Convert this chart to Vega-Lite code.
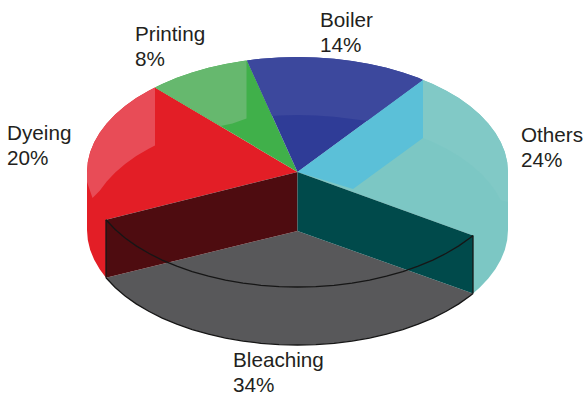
{"$schema":"https://vega.github.io/schema/vega-lite/v6.json","width":585,"height":396,"padding":0,"autosize":{"type":"none"},"background":"white","view":{"stroke":null},
"datasets":{
"faces":[
{"part":"others","n":0,"x":0,"y":0},{"part":"others","n":1,"x":125.5,"y":92},{"part":"others","n":2,"x":135.3,"y":88.1},{"part":"others","n":3,"x":148.8,"y":81.3},{"part":"others","n":4,"x":161.3,"y":73.9},{"part":"others","n":5,"x":172.4,"y":66},{"part":"others","n":6,"x":182.3,"y":57.5},{"part":"others","n":7,"x":190.8,"y":48.6},{"part":"others","n":8,"x":197.8,"y":39.3},{"part":"others","n":9,"x":203.3,"y":29.8},{"part":"others","n":10,"x":207.3,"y":20},{"part":"others","n":11,"x":209.7,"y":10},{"part":"others","n":12,"x":210.5,"y":0},{"part":"others","n":13,"x":210.5,"y":-58},{"part":"others","n":14,"x":209.7,"y":-68},{"part":"others","n":15,"x":207.3,"y":-78},{"part":"others","n":16,"x":203.3,"y":-87.8},{"part":"others","n":17,"x":197.8,"y":-97.3},{"part":"others","n":18,"x":190.8,"y":-106.6},{"part":"others","n":19,"x":182.3,"y":-115.5},{"part":"others","n":20,"x":175.5,"y":-121.5},{"part":"others","n":21,"x":175.5,"y":-63.5},
{"part":"othersBack","n":0,"x":125.5,"y":92},{"part":"othersBack","n":1,"x":135.3,"y":88.1},{"part":"othersBack","n":2,"x":148.8,"y":81.3},{"part":"othersBack","n":3,"x":161.3,"y":73.9},{"part":"othersBack","n":4,"x":172.4,"y":66},{"part":"othersBack","n":5,"x":182.3,"y":57.5},{"part":"othersBack","n":6,"x":190.8,"y":48.6},{"part":"othersBack","n":7,"x":197.8,"y":39.3},{"part":"othersBack","n":8,"x":203.3,"y":29.8},{"part":"othersBack","n":9,"x":207.3,"y":20},{"part":"othersBack","n":10,"x":209.7,"y":10},{"part":"othersBack","n":11,"x":210.5,"y":0},{"part":"othersBack","n":12,"x":210.5,"y":-30},{"part":"othersBack","n":13,"x":203.3,"y":-28.2},{"part":"othersBack","n":14,"x":197.8,"y":-18.7},{"part":"othersBack","n":15,"x":190.8,"y":-9.4},{"part":"othersBack","n":16,"x":182.3,"y":-0.5},{"part":"othersBack","n":17,"x":172.4,"y":8},{"part":"othersBack","n":18,"x":161.3,"y":15.9},{"part":"othersBack","n":19,"x":148.8,"y":23.3},{"part":"othersBack","n":20,"x":135.3,"y":30.1},{"part":"othersBack","n":21,"x":125.5,"y":34},
{"part":"dyeing","n":0,"x":0,"y":0},{"part":"dyeing","n":1,"x":-142.5,"y":84.6},{"part":"dyeing","n":2,"x":-148.8,"y":81.3},{"part":"dyeing","n":3,"x":-161.3,"y":73.9},{"part":"dyeing","n":4,"x":-172.4,"y":66},{"part":"dyeing","n":5,"x":-182.3,"y":57.5},{"part":"dyeing","n":6,"x":-190.8,"y":48.6},{"part":"dyeing","n":7,"x":-197.8,"y":39.3},{"part":"dyeing","n":8,"x":-203.3,"y":29.8},{"part":"dyeing","n":9,"x":-207.3,"y":20},{"part":"dyeing","n":10,"x":-209.7,"y":10},{"part":"dyeing","n":11,"x":-210.5,"y":0},{"part":"dyeing","n":12,"x":-210.5,"y":-58},{"part":"dyeing","n":13,"x":-209.7,"y":-68},{"part":"dyeing","n":14,"x":-207.3,"y":-78},{"part":"dyeing","n":15,"x":-203.3,"y":-87.8},{"part":"dyeing","n":16,"x":-197.8,"y":-97.3},{"part":"dyeing","n":17,"x":-191.5,"y":-105.7},{"part":"dyeing","n":18,"x":-191.5,"y":-47.7},
{"part":"dyeingBack","n":0,"x":-142.5,"y":84.6},{"part":"dyeingBack","n":1,"x":-148.8,"y":81.3},{"part":"dyeingBack","n":2,"x":-161.3,"y":73.9},{"part":"dyeingBack","n":3,"x":-172.4,"y":66},{"part":"dyeingBack","n":4,"x":-182.3,"y":57.5},{"part":"dyeingBack","n":5,"x":-190.8,"y":48.6},{"part":"dyeingBack","n":6,"x":-197.8,"y":39.3},{"part":"dyeingBack","n":7,"x":-203.3,"y":29.8},{"part":"dyeingBack","n":8,"x":-207.3,"y":20},{"part":"dyeingBack","n":9,"x":-209.7,"y":10},{"part":"dyeingBack","n":10,"x":-210.5,"y":0},{"part":"dyeingBack","n":11,"x":-210.5,"y":-10},{"part":"dyeingBack","n":12,"x":-205,"y":-26},{"part":"dyeingBack","n":13,"x":-197.8,"y":-18.7},{"part":"dyeingBack","n":14,"x":-190.8,"y":-9.4},{"part":"dyeingBack","n":15,"x":-182.3,"y":-0.5},{"part":"dyeingBack","n":16,"x":-172.4,"y":8},{"part":"dyeingBack","n":17,"x":-161.3,"y":15.9},{"part":"dyeingBack","n":18,"x":-148.8,"y":23.3},{"part":"dyeingBack","n":19,"x":-142.5,"y":26.6},
{"part":"printing","n":0,"x":0,"y":0},{"part":"printing","n":1,"x":-50.5,"y":111.6},{"part":"printing","n":2,"x":-54.5,"y":111.1},{"part":"printing","n":3,"x":-72,"y":108.1},{"part":"printing","n":4,"x":-89,"y":104.2},{"part":"printing","n":5,"x":-105.3,"y":99.6},{"part":"printing","n":6,"x":-120.7,"y":94.2},{"part":"printing","n":7,"x":-135.3,"y":88.1},{"part":"printing","n":8,"x":-142.5,"y":84.6},
{"part":"printingBack","n":0,"x":-51,"y":111.6},{"part":"printingBack","n":1,"x":-54.5,"y":111.1},{"part":"printingBack","n":2,"x":-72,"y":108.1},{"part":"printingBack","n":3,"x":-89,"y":104.2},{"part":"printingBack","n":4,"x":-105.3,"y":99.6},{"part":"printingBack","n":5,"x":-120.7,"y":94.2},{"part":"printingBack","n":6,"x":-135.3,"y":88.1},{"part":"printingBack","n":7,"x":-142.5,"y":84.6},{"part":"printingBack","n":8,"x":-77,"y":46},{"part":"printingBack","n":9,"x":-65,"y":48.5},{"part":"printingBack","n":10,"x":-51,"y":53.6},
{"part":"boiler","n":0,"x":0,"y":0},{"part":"boiler","n":1,"x":-50.5,"y":111.6},{"part":"boiler","n":2,"x":-36.6,"y":113.3},{"part":"boiler","n":3,"x":-18.3,"y":114.6},{"part":"boiler","n":4,"x":0,"y":115},{"part":"boiler","n":5,"x":18.3,"y":114.6},{"part":"boiler","n":6,"x":36.6,"y":113.3},{"part":"boiler","n":7,"x":54.5,"y":111.1},{"part":"boiler","n":8,"x":72,"y":108.1},{"part":"boiler","n":9,"x":89,"y":104.2},{"part":"boiler","n":10,"x":105.3,"y":99.6},{"part":"boiler","n":11,"x":120.7,"y":94.2},{"part":"boiler","n":12,"x":125.5,"y":92},
{"part":"boilerBack","n":0,"x":-50.5,"y":111.6},{"part":"boilerBack","n":1,"x":-36.6,"y":113.3},{"part":"boilerBack","n":2,"x":-18.3,"y":114.6},{"part":"boilerBack","n":3,"x":0,"y":115},{"part":"boilerBack","n":4,"x":18.3,"y":114.6},{"part":"boilerBack","n":5,"x":36.6,"y":113.3},{"part":"boilerBack","n":6,"x":54.5,"y":111.1},{"part":"boilerBack","n":7,"x":72,"y":108.1},{"part":"boilerBack","n":8,"x":89,"y":104.2},{"part":"boilerBack","n":9,"x":105.3,"y":99.6},{"part":"boilerBack","n":10,"x":120.7,"y":94.2},{"part":"boilerBack","n":11,"x":125.5,"y":92},{"part":"boilerBack","n":12,"x":70,"y":51},{"part":"boilerBack","n":13,"x":54.5,"y":53.1},{"part":"boilerBack","n":14,"x":36.6,"y":55.3},{"part":"boilerBack","n":15,"x":18.3,"y":56.6},{"part":"boilerBack","n":16,"x":0,"y":57},{"part":"boilerBack","n":17,"x":-18.3,"y":56.6},{"part":"boilerBack","n":18,"x":-25.3,"y":56},
{"part":"othersLit","n":0,"x":0,"y":0},{"part":"othersLit","n":1,"x":125.5,"y":92},{"part":"othersLit","n":2,"x":125.5,"y":34},{"part":"othersLit","n":3,"x":55.5,"y":-17},
{"part":"bleachingFloor","n":0,"x":0,"y":-59},{"part":"bleachingFloor","n":1,"x":-191.5,"y":-105.7},{"part":"bleachingFloor","n":2,"x":-182.3,"y":-115.5},{"part":"bleachingFloor","n":3,"x":-172.4,"y":-124},{"part":"bleachingFloor","n":4,"x":-161.3,"y":-131.9},{"part":"bleachingFloor","n":5,"x":-148.8,"y":-139.3},{"part":"bleachingFloor","n":6,"x":-135.3,"y":-146.1},{"part":"bleachingFloor","n":7,"x":-120.7,"y":-152.2},{"part":"bleachingFloor","n":8,"x":-105.3,"y":-157.6},{"part":"bleachingFloor","n":9,"x":-89,"y":-162.2},{"part":"bleachingFloor","n":10,"x":-72,"y":-166.1},{"part":"bleachingFloor","n":11,"x":-54.5,"y":-169.1},{"part":"bleachingFloor","n":12,"x":-36.6,"y":-171.3},{"part":"bleachingFloor","n":13,"x":-18.3,"y":-172.6},{"part":"bleachingFloor","n":14,"x":0,"y":-173},{"part":"bleachingFloor","n":15,"x":18.3,"y":-172.6},{"part":"bleachingFloor","n":16,"x":36.6,"y":-171.3},{"part":"bleachingFloor","n":17,"x":54.5,"y":-169.1},{"part":"bleachingFloor","n":18,"x":72,"y":-166.1},{"part":"bleachingFloor","n":19,"x":89,"y":-162.2},{"part":"bleachingFloor","n":20,"x":105.3,"y":-157.6},{"part":"bleachingFloor","n":21,"x":120.7,"y":-152.2},{"part":"bleachingFloor","n":22,"x":135.3,"y":-146.1},{"part":"bleachingFloor","n":23,"x":148.8,"y":-139.3},{"part":"bleachingFloor","n":24,"x":161.3,"y":-131.9},{"part":"bleachingFloor","n":25,"x":172.4,"y":-124},{"part":"bleachingFloor","n":26,"x":175.5,"y":-121.5},
{"part":"wallLeft","n":0,"x":-191.5,"y":-47.7},{"part":"wallLeft","n":1,"x":0,"y":0},{"part":"wallLeft","n":2,"x":0,"y":-59},{"part":"wallLeft","n":3,"x":-191.5,"y":-105.7},
{"part":"wallRight","n":0,"x":0,"y":0},{"part":"wallRight","n":1,"x":175.5,"y":-63.5},{"part":"wallRight","n":2,"x":175.5,"y":-121.5},{"part":"wallRight","n":3,"x":0,"y":-59}
],
"edges":[
{"edge":"rim","n":0,"x":-191.5,"y":-47.7},{"edge":"rim","n":1,"x":-182.3,"y":-57.5},{"edge":"rim","n":2,"x":-172.4,"y":-66},{"edge":"rim","n":3,"x":-161.3,"y":-73.9},{"edge":"rim","n":4,"x":-148.8,"y":-81.3},{"edge":"rim","n":5,"x":-135.3,"y":-88.1},{"edge":"rim","n":6,"x":-120.7,"y":-94.2},{"edge":"rim","n":7,"x":-105.3,"y":-99.6},{"edge":"rim","n":8,"x":-89,"y":-104.2},{"edge":"rim","n":9,"x":-72,"y":-108.1},{"edge":"rim","n":10,"x":-54.5,"y":-111.1},{"edge":"rim","n":11,"x":-36.6,"y":-113.3},{"edge":"rim","n":12,"x":-18.3,"y":-114.6},{"edge":"rim","n":13,"x":0,"y":-115},{"edge":"rim","n":14,"x":18.3,"y":-114.6},{"edge":"rim","n":15,"x":36.6,"y":-113.3},{"edge":"rim","n":16,"x":54.5,"y":-111.1},{"edge":"rim","n":17,"x":72,"y":-108.1},{"edge":"rim","n":18,"x":89,"y":-104.2},{"edge":"rim","n":19,"x":105.3,"y":-99.6},{"edge":"rim","n":20,"x":120.7,"y":-94.2},{"edge":"rim","n":21,"x":135.3,"y":-88.1},{"edge":"rim","n":22,"x":148.8,"y":-81.3},{"edge":"rim","n":23,"x":161.3,"y":-73.9},{"edge":"rim","n":24,"x":172.4,"y":-66},{"edge":"rim","n":25,"x":175.5,"y":-63.5},
{"edge":"base","n":0,"x":-191.5,"y":-105.7},{"edge":"base","n":1,"x":-182.3,"y":-115.5},{"edge":"base","n":2,"x":-172.4,"y":-124},{"edge":"base","n":3,"x":-161.3,"y":-131.9},{"edge":"base","n":4,"x":-148.8,"y":-139.3},{"edge":"base","n":5,"x":-135.3,"y":-146.1},{"edge":"base","n":6,"x":-120.7,"y":-152.2},{"edge":"base","n":7,"x":-105.3,"y":-157.6},{"edge":"base","n":8,"x":-89,"y":-162.2},{"edge":"base","n":9,"x":-72,"y":-166.1},{"edge":"base","n":10,"x":-54.5,"y":-169.1},{"edge":"base","n":11,"x":-36.6,"y":-171.3},{"edge":"base","n":12,"x":-18.3,"y":-172.6},{"edge":"base","n":13,"x":0,"y":-173},{"edge":"base","n":14,"x":18.3,"y":-172.6},{"edge":"base","n":15,"x":36.6,"y":-171.3},{"edge":"base","n":16,"x":54.5,"y":-169.1},{"edge":"base","n":17,"x":72,"y":-166.1},{"edge":"base","n":18,"x":89,"y":-162.2},{"edge":"base","n":19,"x":105.3,"y":-157.6},{"edge":"base","n":20,"x":120.7,"y":-152.2},{"edge":"base","n":21,"x":135.3,"y":-146.1},{"edge":"base","n":22,"x":148.8,"y":-139.3},{"edge":"base","n":23,"x":161.3,"y":-131.9},{"edge":"base","n":24,"x":172.4,"y":-124},{"edge":"base","n":25,"x":175.5,"y":-121.5},
{"edge":"postLeft","n":0,"x":-191.5,"y":-47.7},{"edge":"postLeft","n":1,"x":-191.5,"y":-105.7},
{"edge":"postRight","n":0,"x":175.5,"y":-63.5},{"edge":"postRight","n":1,"x":175.5,"y":-121.5}
],
"labels":[
{"name":"Boiler","share":14,"label":"Boiler\n14%","x":22.5,"y":145},
{"name":"Printing","share":8,"label":"Printing\n8%","x":-162.5,"y":131},
{"name":"Dyeing","share":20,"label":"Dyeing\n20%","x":-290.5,"y":32},
{"name":"Others","share":24,"label":"Others\n24%","x":223.5,"y":30},
{"name":"Bleaching","share":34,"label":"Bleaching\n34%","x":-64.5,"y":-195}
]},
"layer":[
{"data":{"name":"faces"},"mark":{"type":"line","strokeWidth":0,"clip":false},
"encoding":{
"x":{"field":"x","type":"quantitative","scale":{"domain":[-297.5,287.5],"nice":false,"zero":false},"axis":null},
"y":{"field":"y","type":"quantitative","scale":{"domain":[-224,172],"nice":false,"zero":false},"axis":null},
"order":{"field":"n"},
"detail":{"field":"part"},
"fill":{"field":"part","type":"nominal","legend":null,"sort":null,"scale":{
"domain":["others","othersBack","dyeing","dyeingBack","printing","printingBack","boiler","boilerBack","othersLit","bleachingFloor","wallLeft","wallRight"],
"range":["#7cc7c4","#81c9c6","#e31e26","#e84c57","#40b04a","#66b86e","#2f3c97","#3c489d","#5bc0d8","#58585a","#4e0c10","#004a4b"]}}}},
{"data":{"name":"edges"},"mark":{"type":"line","stroke":"#161616","strokeWidth":1.3},
"encoding":{
"x":{"field":"x","type":"quantitative"},
"y":{"field":"y","type":"quantitative"},
"order":{"field":"n"},
"detail":{"field":"edge"}}},
{"data":{"name":"labels"},"mark":{"type":"text","align":"left","baseline":"alphabetic","font":"Liberation Sans","fontSize":20.7,"lineBreak":"\n","lineHeight":25,"fill":"#231f20"},
"encoding":{
"x":{"field":"x","type":"quantitative"},
"y":{"field":"y","type":"quantitative"},
"text":{"field":"label"}}}
]}
